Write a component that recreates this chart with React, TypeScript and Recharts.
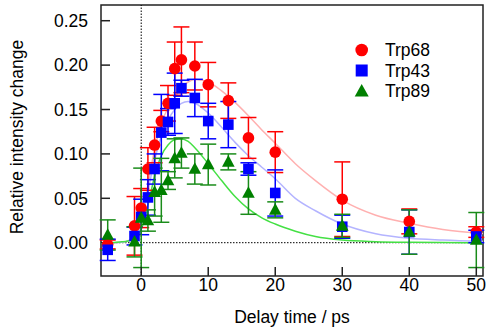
import React from 'react';
import {
  ComposedChart,
  Scatter,
  Line,
  XAxis,
  YAxis,
  ErrorBar,
  ReferenceLine,
  ReferenceArea,
  Label,
} from 'recharts';

// ---- data ----
const delayTimes = [-5, -1, 0, 1, 2, 3, 4, 5, 6, 8, 10, 13, 16, 20, 30, 40, 50];

const trp68 = [-0.002, 0.019, 0.039, 0.083, 0.110, 0.137, 0.157, 0.196, 0.206, 0.199, 0.178, 0.160, 0.118, 0.102, 0.049, 0.024, 0.012];
const trp68Err = [0.005, 0.033, 0.022, 0.024, 0.02, 0.012, 0.02, 0.03, 0.037, 0.027, 0.025, 0.02, 0.023, 0.023, 0.042, 0.014, 0.006];

const trp43 = [-0.008, 0.0075, 0.029, 0.051, 0.083, 0.124, 0.136, 0.157, 0.174, 0.163, 0.137, 0.133, 0.083, 0.056, 0.018, 0.012, 0.007];
const trp43Err = [0.012, 0.01, 0.02, 0.02, 0.017, 0.043, 0.015, 0.034, 0.009, 0.021, 0.02, 0.026, 0.007, 0.026, 0.013, 0.025, 0.007];

const trp89 = [0.0087, 0.001, 0.028, 0.025, 0.057, 0.059, 0.070, 0.095, 0.101, 0.083, 0.088, 0.091, 0.056, 0.037, 0.019, 0.012, 0.003];
const trp89Err = [0.017, 0.017, 0.056, 0.012, 0.027, 0.036, 0.01, 0.022, 0.017, 0.017, 0.023, 0.009, 0.024, 0.009, 0.013, 0.025, 0.031];

const fitTimes = [-6, -4, -3, -2, -1, 0, 1, 2, 3, 4, 5, 6, 7, 8, 10, 12, 14, 16, 18, 20, 23, 26, 30, 35, 40, 45, 51];
const fit68 = [0, 0, 0.0005, 0.002, 0.007, 0.025, 0.065, 0.105, 0.134, 0.152, 0.163, 0.175, 0.181, 0.184, 0.181, 0.171, 0.158, 0.143, 0.127, 0.112, 0.089, 0.07, 0.048, 0.031, 0.022, 0.015, 0.0105];
const fit43 = [0, 0, 0.0005, 0.002, 0.006, 0.022, 0.058, 0.093, 0.12, 0.138, 0.15, 0.157, 0.159, 0.157, 0.146, 0.13, 0.113, 0.098, 0.085, 0.072, 0.05, 0.036, 0.021, 0.01, 0.005, 0.003, 0.0015];
const fit89 = [0, 0.0003, 0.001, 0.002, 0.005, 0.015, 0.042, 0.075, 0.098, 0.11, 0.116, 0.117, 0.114, 0.107, 0.089, 0.07, 0.052, 0.038, 0.028, 0.021, 0.013, 0.007, 0.003, 0.0012, 0.0005, 0.0002, 0];

const seriesNames = ['Trp68', 'Trp43', 'Trp89'];
const xTicks = [0, 10, 20, 30, 40, 50];
const yTicks = [0, 0.05, 0.1, 0.15, 0.2, 0.25];

// ---- styling ----
const FONT = '"Liberation Sans", Arial, sans-serif';
const RED = '#ff0000';
const BLUE = '#0000ff';
const GREEN = '#008000';
const GREEN_BAR = '#1a8c1a';
const FIT_RED = '#ffb0b0';
const FIT_BLUE = '#b4b4ff';
const FIT_GREEN = '#44e044';
const FRAME = '#222222';

const X_DOMAIN: [number, number] = [-6, 51];
const Y_DOMAIN: [number, number] = [-0.0375, 0.2677];

const toPoints = (ys: number[], errs: number[]) =>
  delayTimes.map((x, i) => ({ x, y: ys[i], err: errs[i] }));
const toFit = (ys: number[]) => fitTimes.map((x, i) => ({ x, y: ys[i] }));

const data68 = toPoints(trp68, trp68Err);
const data43 = toPoints(trp43, trp43Err);
const data89 = toPoints(trp89, trp89Err);

const CircleShape = (p: any) => <circle cx={p.cx} cy={p.cy} r={5.8} fill={RED} />;
const SquareShape = (p: any) => (
  <rect x={p.cx - 5.3} y={p.cy - 5.3} width={10.6} height={10.6} fill={BLUE} />
);
const TriShape = (p: any) => (
  <polygon
    points={`${p.cx},${p.cy - 6.8} ${p.cx - 6.3},${p.cy + 4.8} ${p.cx + 6.3},${p.cy + 4.8}`}
    fill={GREEN}
  />
);

const LegendBox = () => {
  const rows = [0, 1, 2];
  return (
    <svg width={130} height={70} style={{ overflow: 'visible', display: 'block' }}>
      {rows.map((i) => {
        const cy = 15 + i * 20.5;
        const cx = 21.7;
        let marker;
        if (i === 0) marker = <circle cx={cx} cy={cy} r={6.3} fill={RED} />;
        else if (i === 1) marker = <rect x={cx - 6} y={cy - 6} width={12} height={12} fill={BLUE} />;
        else
          marker = (
            <polygon
              points={`${cx},${cy - 7} ${cx - 7},${cy + 5.5} ${cx + 7},${cy + 5.5}`}
              fill={GREEN}
            />
          );
        return (
          <g key={i}>
            {marker}
            <text x={45} y={cy + 6.2} fontSize={17.5} fontFamily={FONT} fill="#000">
              {seriesNames[i]}
            </text>
          </g>
        );
      })}
    </svg>
  );
};

export default function App() {
  return (
    <div style={{ position: 'absolute', left: 0, top: 0, width: 488, height: 332, background: '#fff' }}>
      <ComposedChart
        width={488}
        height={332}
        margin={{ top: 5, right: 5, bottom: 0, left: 0 }}
        style={{ fontFamily: FONT }}
      >
        <XAxis
          type="number"
          dataKey="x"
          domain={X_DOMAIN}
          ticks={xTicks}
          allowDataOverflow
          height={56}
          axisLine={false}
          tickSize={-9}
          tickMargin={12}
          tickLine={{ stroke: FRAME, strokeWidth: 1.5 }}
          tick={{ fill: '#000', fontSize: 17.5, fontFamily: FONT }}
        >
          <Label
            content={(props: any) => {
              const vb = props.viewBox || { x: 101, y: 276, width: 382, height: 56 };
              return (
                <text
                  x={vb.x + vb.width / 2}
                  y={vb.y + 47}
                  textAnchor="middle"
                  fontSize={17.5}
                  fontFamily={FONT}
                  fill="#000"
                >
                  Delay time / ps
                </text>
              );
            }}
          />
        </XAxis>
        <YAxis
          type="number"
          domain={Y_DOMAIN}
          ticks={yTicks}
          allowDataOverflow
          width={101}
          axisLine={false}
          tickSize={-9}
          tickMargin={22}
          tickLine={{ stroke: FRAME, strokeWidth: 1.5 }}
          tickFormatter={(v: number) => v.toFixed(2)}
          tick={{ fill: '#000', fontSize: 17.5, fontFamily: FONT }}
        >
          <Label
            content={(props: any) => {
              const vb = props.viewBox || { x: 0, y: 5, width: 101, height: 271 };
              const cx = 23;
              const cy = vb.y + vb.height / 2 - 3.5;
              return (
                <text
                  x={cx}
                  y={cy}
                  transform={`rotate(-90, ${cx}, ${cy})`}
                  textAnchor="middle"
                  fontSize={17.5}
                  fontFamily={FONT}
                  fill="#000"
                >
                  Relative intensity change
                </text>
              );
            }}
          />
        </YAxis>

        <ReferenceLine x={0} stroke="#000" strokeWidth={1} strokeDasharray="1.5 1.5" />
        <ReferenceLine y={0} stroke="#000" strokeWidth={1} strokeDasharray="1.5 1.5" />

        <Line
          data={toFit(fit68)}
          dataKey="y"
          type="monotone"
          stroke={FIT_RED}
          strokeWidth={1.5}
          dot={false}
          activeDot={false}
          isAnimationActive={false}
          legendType="none"
        />
        <Line
          data={toFit(fit43)}
          dataKey="y"
          type="monotone"
          stroke={FIT_BLUE}
          strokeWidth={1.5}
          dot={false}
          activeDot={false}
          isAnimationActive={false}
          legendType="none"
        />
        <Line
          data={toFit(fit89)}
          dataKey="y"
          type="monotone"
          stroke={FIT_GREEN}
          strokeWidth={1.5}
          dot={false}
          activeDot={false}
          isAnimationActive={false}
          legendType="none"
        />

        <Scatter name={seriesNames[0]} data={data68} dataKey="y" shape={CircleShape} isAnimationActive={false}>
          <ErrorBar dataKey="err" direction="y" width={8} stroke={RED} strokeWidth={1.5} isAnimationActive={false} />
        </Scatter>
        <Scatter name={seriesNames[1]} data={data43} dataKey="y" shape={SquareShape} isAnimationActive={false}>
          <ErrorBar dataKey="err" direction="y" width={8} stroke={BLUE} strokeWidth={1.5} isAnimationActive={false} />
        </Scatter>
        <Scatter name={seriesNames[2]} data={data89} dataKey="y" shape={TriShape} isAnimationActive={false}>
          <ErrorBar dataKey="err" direction="y" width={8} stroke={GREEN_BAR} strokeWidth={1.5} isAnimationActive={false} />
        </Scatter>

        <ReferenceArea
          x1={X_DOMAIN[0]}
          x2={X_DOMAIN[1]}
          y1={Y_DOMAIN[0]}
          y2={Y_DOMAIN[1]}
          fill="none"
          fillOpacity={0}
          stroke={FRAME}
          strokeWidth={1.5}
          ifOverflow="visible"
        />
      </ComposedChart>
      <div style={{ position: 'absolute', left: 340, top: 35 }}>
        <LegendBox />
      </div>
    </div>
  );
}
